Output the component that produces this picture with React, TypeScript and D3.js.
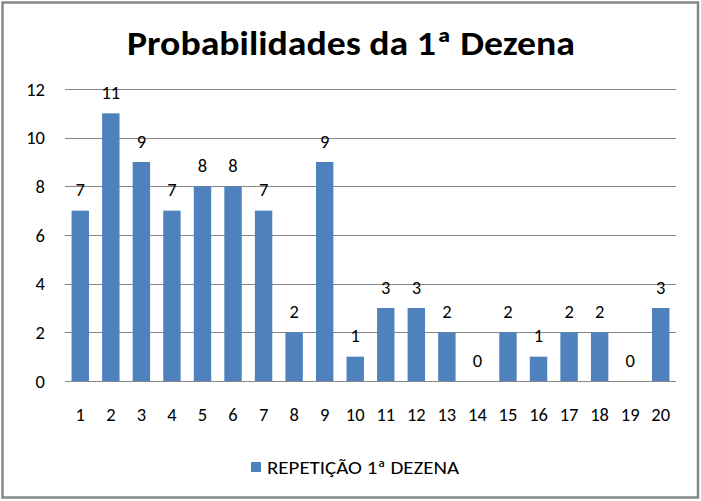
import { useEffect, useRef } from 'react'
import * as d3 from 'd3'

const categories = ['1', '2', '3', '4', '5', '6', '7', '8', '9', '10', '11', '12', '13', '14', '15', '16', '17', '18', '19', '20']
const values = [7, 11, 9, 7, 8, 8, 7, 2, 9, 1, 3, 3, 2, 0, 2, 1, 2, 2, 0, 3]
const yTicks = [0, 2, 4, 6, 8, 10, 12]
const seriesName = 'REPETIÇÃO 1ª DEZENA'
const title = 'Probabilidades da 1ª Dezena'

const font = "Carlito, Calibri, 'Open Sans', sans-serif"

export default function App() {
  const svgRef = useRef<SVGSVGElement | null>(null)
  const width = 701
  const height = 501

  useEffect(() => {
    if (!svgRef.current) return
    const svg = d3.select(svgRef.current)
    svg.selectAll('*').remove()

    svg.append('rect')
      .attr('width', width).attr('height', height).attr('fill', '#fff')

    svg.append('rect')
      .attr('x', 2.5).attr('y', 2.5)
      .attr('width', 695.5).attr('height', 495)
      .attr('fill', 'none').attr('stroke', '#868686').attr('stroke-width', 2.5)

    const plot = { left: 65, right: 676, top: 89, bottom: 381 }

    const x = d3.scaleBand<string>()
      .domain(categories)
      .range([plot.left, plot.right])
      .paddingInner(0.43)
      .paddingOuter(0.215)

    const y = d3.scaleLinear().domain([0, 12]).range([plot.bottom, plot.top])

    const fs = 18.5

    // gridlines
    svg.append('g')
      .selectAll('line')
      .data(yTicks)
      .join('line')
      .attr('x1', plot.left).attr('x2', plot.right)
      .attr('y1', d => Math.round(y(d)) + 0.5).attr('y2', d => Math.round(y(d)) + 0.5)
      .attr('stroke', '#868686').attr('stroke-width', 1)

    svg.append('g')
      .selectAll('text')
      .data(yTicks)
      .join('text')
      .attr('x', 45)
      .attr('y', d => y(d) + 6.5)
      .attr('text-anchor', 'end')
      .attr('font-family', font).attr('font-size', fs).attr('fill', '#000')
      .text(d => d)

    svg.append('g')
      .selectAll('rect')
      .data(values)
      .join('rect')
      .attr('x', (_, i) => x(categories[i]) ?? 0)
      .attr('y', d => y(d))
      .attr('width', x.bandwidth())
      .attr('height', d => y(0) - y(d))
      .attr('fill', '#4F81BD')

    svg.append('g')
      .selectAll('text')
      .data(values)
      .join('text')
      .attr('x', (_, i) => (x(categories[i]) ?? 0) + x.bandwidth() / 2)
      .attr('y', d => y(d) - 14.5)
      .attr('text-anchor', 'middle')
      .attr('font-family', font).attr('font-size', fs).attr('fill', '#000')
      .text(d => d)

    svg.append('g')
      .selectAll('text')
      .data(categories)
      .join('text')
      .attr('x', d => (x(d) ?? 0) + x.bandwidth() / 2)
      .attr('y', 421)
      .attr('text-anchor', 'middle')
      .attr('font-family', font).attr('font-size', fs).attr('fill', '#000')
      .text(d => d)

    svg.append('text')
      .attr('x', 351).attr('y', 55)
      .attr('text-anchor', 'middle')
      .attr('font-family', font).attr('font-size', 34).attr('font-weight', 'bold')
      .attr('textLength', 448).attr('lengthAdjust', 'spacingAndGlyphs')
      .text(title)

    const legend = svg.append('g')
    legend.append('rect')
      .attr('x', 251).attr('y', 462).attr('width', 10).attr('height', 10)
      .attr('fill', '#4F81BD')
    legend.append('text')
      .attr('x', 267).attr('y', 473.5)
      .attr('font-family', font).attr('font-size', fs).attr('fill', '#000')
      .attr('textLength', 192).attr('lengthAdjust', 'spacingAndGlyphs')
      .text(seriesName)
  }, [])

  return (
    <svg ref={svgRef} width={width} height={height}
      style={{ position: 'absolute', left: 0, top: 0 }} />
  )
}
